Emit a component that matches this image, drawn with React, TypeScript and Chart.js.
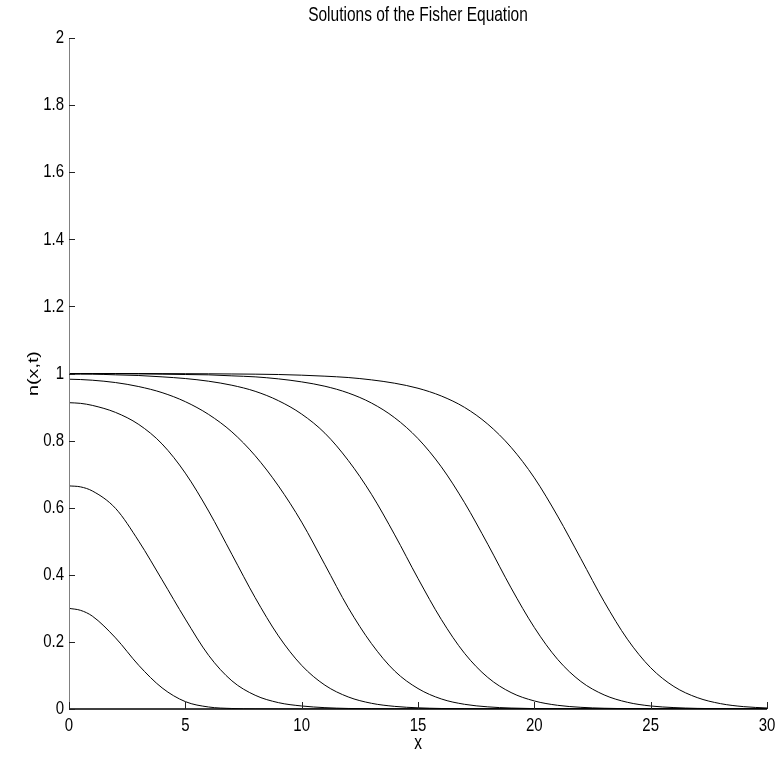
import React, { useEffect, useRef } from "react";
import { Chart, registerables } from "chart.js";

Chart.register(...registerables);

const titleText = "Solutions of the Fisher Equation";
const xTitle = "x";
const yTitle = "n(x,t)";

const xValues = [0, 0.5, 1, 2, 3, 4, 5, 6, 7, 8, 9, 10, 11, 12, 13, 14, 15, 16, 17, 18, 19, 20, 21, 22, 23, 24, 25, 26, 27, 28, 29, 30];

const curve1 = [0.300, 0.294, 0.277, 0.212, 0.130, 0.063, 0.022, 0.006, 0.0015, 0.0003, 0, 0, 0, 0, 0, 0, 0, 0, 0, 0, 0, 0, 0, 0, 0, 0, 0, 0, 0, 0, 0, 0];
const curve2 = [0.665, 0.662, 0.650, 0.598, 0.500, 0.385, 0.268, 0.160, 0.084, 0.041, 0.019, 0.009, 0.004, 0.0016, 0.0006, 0.0002, 0, 0, 0, 0, 0, 0, 0, 0, 0, 0, 0, 0, 0, 0, 0, 0];
const curve3 = [0.913, 0.911, 0.905, 0.884, 0.848, 0.790, 0.703, 0.590, 0.461, 0.332, 0.218, 0.130, 0.071, 0.036, 0.017, 0.0078, 0.0035, 0.0015, 0.0006, 0.0003, 0, 0, 0, 0, 0, 0, 0, 0, 0, 0, 0, 0];
const curve4 = [0.983, 0.982, 0.980, 0.973, 0.961, 0.943, 0.916, 0.878, 0.826, 0.755, 0.665, 0.557, 0.430, 0.302, 0.195, 0.113, 0.061, 0.030, 0.014, 0.0064, 0.0028, 0.0012, 0.0005, 0.0002, 0, 0, 0, 0, 0, 0, 0, 0];
const curve5 = [0.998, 0.998, 0.998, 0.996, 0.994, 0.990, 0.985, 0.977, 0.965, 0.947, 0.919, 0.879, 0.822, 0.741, 0.640, 0.519, 0.389, 0.267, 0.166, 0.094, 0.049, 0.024, 0.011, 0.005, 0.0022, 0.0009, 0.0004, 0, 0, 0, 0, 0];
const curve6 = [1.000, 1.000, 0.9995, 0.9993, 0.9988, 0.998, 0.997, 0.996, 0.993, 0.990, 0.984, 0.975, 0.962, 0.942, 0.912, 0.868, 0.806, 0.722, 0.615, 0.491, 0.361, 0.243, 0.148, 0.082, 0.042, 0.020, 0.009, 0.0042, 0.0018, 0.0008, 0.0003, 0.0001];
const curve7 = [1.000, 1.000, 1.000, 1.000, 1.000, 0.9996, 0.9994, 0.9991, 0.9986, 0.998, 0.997, 0.995, 0.992, 0.988, 0.981, 0.971, 0.956, 0.933, 0.899, 0.849, 0.780, 0.689, 0.575, 0.448, 0.320, 0.208, 0.123, 0.067, 0.034, 0.016, 0.007, 0.003];

const curves = [curve1, curve2, curve3, curve4, curve5, curve6, curve7];

const xTickValues = [0, 5, 10, 15, 20, 25, 30];
const xTickLabels = ["0", "5", "10", "15", "20", "25", "30"];
const yTickValues = [0, 0.2, 0.4, 0.6, 0.8, 1, 1.2, 1.4, 1.6, 1.8, 2];
const yTickLabels = ["0", "0.2", "0.4", "0.6", "0.8", "1", "1.2", "1.4", "1.6", "1.8", "2"];

const FONT = "'Liberation Sans', Arial, Helvetica, sans-serif";
const STRETCH = 1.27;

function stretchedText(ctx: CanvasRenderingContext2D, text: string, x: number, y: number, align: CanvasTextAlign, vertical = false) {
  ctx.save();
  ctx.translate(x, y);
  if (vertical) {
    ctx.rotate(-Math.PI / 2);
    ctx.scale(STRETCH, 1);
  } else {
    ctx.scale(1, STRETCH);
  }
  ctx.textAlign = align;
  ctx.textBaseline = "middle";
  ctx.fillText(text, 0, 0);
  ctx.restore();
}

const decorPlugin = {
  id: "decor",
  afterDraw(chart: any) {
    const { ctx, chartArea, scales } = chart;
    const xs = scales.x;
    const ys = scales.y;
    ctx.save();
    // left axis (gray)
    ctx.beginPath();
    ctx.strokeStyle = "#808080";
    ctx.lineWidth = 1;
    ctx.moveTo(chartArea.left + 0.5, chartArea.top);
    ctx.lineTo(chartArea.left + 0.5, chartArea.bottom);
    ctx.stroke();
    // bottom axis (black)
    ctx.beginPath();
    ctx.strokeStyle = "#000";
    ctx.lineWidth = 1.5;
    ctx.moveTo(chartArea.left, chartArea.bottom);
    ctx.lineTo(chartArea.right, chartArea.bottom);
    ctx.stroke();
    // inward ticks
    ctx.beginPath();
    ctx.strokeStyle = "#222";
    ctx.lineWidth = 1;
    for (const v of yTickValues) {
      const y = Math.round(ys.getPixelForValue(v)) + 0.5;
      ctx.moveTo(chartArea.left, y);
      ctx.lineTo(chartArea.left + 6, y);
    }
    for (const v of xTickValues) {
      const x = Math.round(xs.getPixelForValue(v)) + 0.5;
      ctx.moveTo(x, chartArea.bottom);
      ctx.lineTo(x, chartArea.bottom - 7);
    }
    ctx.stroke();
    // tick labels
    ctx.fillStyle = "#000";
    ctx.font = "15px " + FONT;
    yTickValues.forEach((v, i) => {
      stretchedText(ctx, yTickLabels[i], chartArea.left - 5, ys.getPixelForValue(v), "right");
    });
    xTickValues.forEach((v, i) => {
      stretchedText(ctx, xTickLabels[i], xs.getPixelForValue(v), chartArea.bottom + 16.5, "center");
    });
    // titles
    ctx.font = "15.5px " + FONT;
    const cx = (chartArea.left + chartArea.right) / 2;
    stretchedText(ctx, titleText, cx, 16, "center");
    stretchedText(ctx, xTitle, cx, 744, "center");
    stretchedText(ctx, yTitle, 34, (chartArea.top + chartArea.bottom) / 2, "center", true);
    ctx.restore();
  },
};

export default function App() {
  const canvasRef = useRef<HTMLCanvasElement | null>(null);

  useEffect(() => {
    const canvas = canvasRef.current;
    if (!canvas) return;
    const datasets = curves.map((c, i) => ({
      label: "t" + (i + 1),
      data: xValues.map((x, j) => ({ x, y: c[j] })),
      borderColor: "#000",
      borderWidth: 1,
      pointRadius: 0,
      fill: false,
      cubicInterpolationMode: "monotone" as const,
    }));
    const chart = new Chart(canvas, {
      type: "line",
      data: { datasets },
      options: {
        responsive: false,
        animation: false,
        devicePixelRatio: 1,
        layout: { padding: { left: 0, right: 15, top: 38, bottom: 0 } },
        plugins: { legend: { display: false }, tooltip: { enabled: false }, title: { display: false } },
        scales: {
          x: {
            type: "linear",
            min: 0,
            max: 30,
            grid: { display: false, drawTicks: false },
            border: { display: false },
            afterBuildTicks: (scale: any) => {
              scale.ticks = xTickValues.map((v) => ({ value: v }));
            },
            afterFit: (scale: any) => {
              scale.height = 48;
            },
            ticks: { display: false },
          },
          y: {
            type: "linear",
            min: 0,
            max: 2,
            grid: { display: false, drawTicks: false },
            border: { display: false },
            afterBuildTicks: (scale: any) => {
              scale.ticks = yTickValues.map((v) => ({ value: v }));
            },
            afterFit: (scale: any) => {
              scale.width = 69;
            },
            ticks: { display: false },
          },
        },
      },
      plugins: [decorPlugin],
    });
    return () => chart.destroy();
  }, []);

  return (
    <div style={{ position: "absolute", left: 0, top: 0, width: 782, height: 757, background: "#fff" }}>
      <canvas ref={canvasRef} width={782} height={757} style={{ display: "block" }} />
    </div>
  );
}
